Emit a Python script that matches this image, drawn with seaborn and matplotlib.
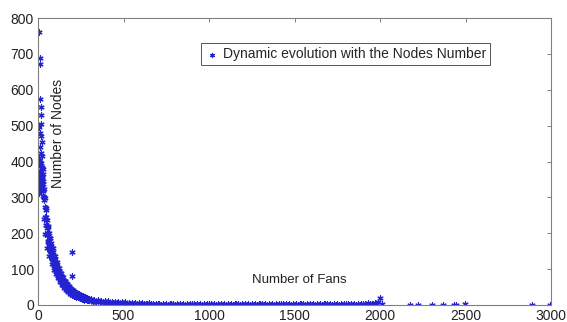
import numpy as np
import pandas as pd
import seaborn as sns
import matplotlib.pyplot as plt

# ---- data ----
fans_head = [3, 12, 13, 14, 16, 15, 20, 8, 10, 18, 22, 12, 17, 25, 6, 14, 20, 9, 24, 27,
             11, 15, 19, 23, 26, 30, 5, 8, 12, 17, 21, 28, 32, 4, 7, 10, 16, 22, 29, 35,
             2, 6, 13, 18, 24, 31, 3, 9, 14, 20, 27]
nodes_head = [760, 690, 672, 575, 552, 530, 505, 495, 480, 470, 455, 440, 425, 415, 410, 400,
              395, 388, 382, 378, 372, 368, 362, 358, 350, 345, 340, 338, 335, 330, 325, 320,
              318, 315, 312, 330, 340, 355, 365, 300, 325, 335, 342, 348, 385, 305, 322, 390,
              375, 360, 338]

fans_mid_a = [36, 39, 42, 45, 48, 51, 54, 57, 60, 63, 66, 69, 72, 75, 78, 81, 84, 87, 90, 93,
              96, 99, 102, 105, 108, 111, 114, 117, 120, 123, 126, 129, 132, 135, 138, 141, 144,
              147, 150, 153, 156, 159, 162, 165, 168, 171, 174, 177, 180, 183, 186, 189, 192,
              195, 198, 201, 204, 207, 210, 213, 216, 219, 222, 225, 228, 231, 234, 237, 240,
              243, 246, 249, 252, 255, 258, 261, 264, 267, 270, 273, 276, 279, 282, 285, 288,
              291, 294, 297, 300]
nodes_mid_a = [294, 245, 272, 223, 244, 196, 216, 179, 201, 166,
               186, 153, 171, 141, 158, 130, 146, 121, 135, 112,
               125, 104, 117, 97, 108, 89, 100, 84, 94, 78,
               87, 73, 81, 68, 76, 63, 70, 59, 66, 55,
               62, 51, 57, 47, 53, 45, 50, 42, 46, 39,
               43, 36, 41, 34, 39, 33, 37, 31, 35, 29,
               32, 27, 31, 26, 29, 25, 28, 23, 27, 22,
               26, 21, 24, 20, 23, 20, 22, 19, 21, 18,
               19, 17, 18, 16, 18, 15, 17, 15, 16]

fans_mid_b = [38, 41, 44, 47, 50, 53, 56, 59, 62, 65, 68, 71, 74, 77, 80, 83, 86, 89, 92, 95,
              98, 101, 104, 107, 110, 113, 116, 119, 122, 125, 128, 131, 134, 137, 140, 143,
              146, 149, 152, 155, 158, 161, 164, 167, 170, 173, 176, 179, 182, 185, 188, 191,
              194, 197, 200, 203, 206, 209, 212, 215, 218, 221, 224, 227, 230, 233, 236, 239,
              242, 245, 248, 251, 254, 257, 260, 263, 266, 269, 272, 275, 278, 281, 284, 287,
              290, 293, 296, 299]
nodes_mid_b = [239, 297, 222, 271, 199, 238, 176, 217, 164, 202,
               151, 186, 139, 172, 128, 158, 119, 147, 110, 136,
               102, 127, 95, 118, 88, 108, 82, 102, 77, 95,
               71, 88, 66, 82, 62, 77, 57, 71, 54, 67,
               50, 62, 47, 58, 43, 54, 40, 51, 38, 47,
               35, 44, 33, 42, 32, 40, 30, 37, 28, 35,
               26, 33, 26, 32, 24, 31, 23, 28, 22, 27,
               21, 26, 19, 25, 18, 24, 18, 23, 17, 21,
               16, 20, 15, 19, 15, 18, 14, 18]

fans_mid_c = [37, 43, 49, 55, 61, 67, 73, 79, 85, 91, 97, 103, 109, 115, 121, 127, 133, 139,
              145, 151, 157, 163, 169, 175, 181, 187, 193, 199, 205, 211, 217, 223, 229, 235,
              241, 247, 253, 259, 265, 271, 277]
nodes_mid_c = [323, 198, 266, 160, 221, 136, 187, 115, 160, 98, 138, 86, 119, 74, 103, 64,
               90, 56, 77, 48, 67, 42, 59, 37, 52, 32, 46, 29, 41, 26, 36, 23, 32, 21, 30,
               19, 26, 17, 24, 15, 22]

fans_tail_a = [310, 330, 350, 370, 390, 410, 430, 450, 470, 490, 510, 530, 550, 570, 590, 610,
               630, 650, 670, 690, 710, 730, 750, 770, 790, 810, 830, 850, 870, 890, 910, 930,
               950, 970, 990, 1010, 1030, 1050, 1070, 1090, 1110, 1130, 1150, 1170, 1190, 1210,
               1230, 1250, 1270, 1290, 1310, 1330, 1350, 1370, 1390, 1410, 1430, 1450, 1470,
               1490, 1510, 1530, 1550, 1570, 1590, 1610, 1630, 1650, 1670, 1690, 1710, 1730,
               1750, 1770, 1790, 1810, 1830, 1850, 1870, 1890, 1910, 1930, 1950, 1970, 1990]
nodes_tail_a = [16, 14, 13, 12, 11, 10, 9, 9, 8, 7,
                7, 6, 6, 5, 5, 5, 4, 5, 4, 4,
                4, 3, 4, 3, 3, 4, 3, 3, 4, 3,
                3, 3, 4, 3, 3, 3, 4, 3, 3, 3,
                3, 4, 3, 3, 3, 3, 4, 3, 3, 4,
                3, 3, 3, 3, 4, 3, 3, 4, 3, 3,
                3, 3, 4, 3, 3, 4, 3, 3, 4, 3,
                3, 4, 3, 4, 3, 3, 4, 3, 4, 3,
                4, 5, 4, 6, 9]

fans_tail_b = [320, 340, 360, 380, 400, 420, 440, 460, 480, 500, 520, 540, 560, 580, 600, 620,
               640, 660, 680, 700, 720, 740, 760, 780, 800, 820, 840, 860, 880, 900, 920, 940,
               960, 980, 1000, 1020, 1040, 1060, 1080, 1100, 1120, 1140, 1160, 1180, 1200, 1220,
               1240, 1260, 1280, 1300, 1320, 1340, 1360, 1380, 1400, 1420, 1440, 1460, 1480,
               1500, 1520, 1540, 1560, 1580, 1600, 1620, 1640, 1660, 1680, 1700, 1720, 1740,
               1760, 1780, 1800, 1820, 1840, 1860, 1880, 1900, 1920, 1940, 1960, 1980, 2000]
nodes_tail_b = [9, 8, 8, 7, 6, 6, 5, 5, 4, 4,
                4, 3, 3, 2, 3, 2, 2, 2, 1, 2,
                1, 1, 1, 2, 1, 1, 1, 1, 1, 2,
                1, 1, 1, 1, 2, 1, 1, 1, 1, 1,
                1, 1, 2, 1, 1, 1, 1, 1, 1, 2,
                1, 1, 1, 1, 1, 2, 1, 1, 1, 1,
                1, 2, 1, 1, 1, 1, 1, 1, 2, 1,
                1, 1, 1, 1, 2, 1, 1, 1, 1, 2,
                1, 2, 3, 4, 20]

fans_outliers = [196, 198, 2010, 2175, 2222, 2302, 2368, 2430, 2445, 2497, 2889, 2994]
nodes_outliers = [147, 81, 2, 1, 1, 1, 1, 1, 1, 3, 1, 1]

legend_label = 'Dynamic evolution with the Nodes Number'
x_ticks = [0, 500, 1000, 1500, 2000, 2500, 3000]
y_ticks = [0, 100, 200, 300, 400, 500, 600, 700, 800]

fans = (fans_head + fans_mid_a + fans_mid_b + fans_mid_c + fans_tail_a + fans_tail_b
        + fans_outliers)
nodes = (nodes_head + nodes_mid_a + nodes_mid_b + nodes_mid_c + nodes_tail_a + nodes_tail_b
         + nodes_outliers)
df = pd.DataFrame({'fans': fans, 'nodes': nodes})

# ---- plotting ----
sns.set_theme(style='white')
plt.rcParams['font.family'] = ['Liberation Sans', 'DejaVu Sans']

fig = plt.figure(figsize=(5.67, 3.22), dpi=100)
ax = fig.add_axes([0.067, 0.0528, 0.905, 0.891])

sns.scatterplot(data=df, x='fans', y='nodes', marker=(6, 2, 0), color='#2323d2',
                s=14, linewidth=0.9, ax=ax, label=legend_label)

ax.set_xlim(0, 3000)
ax.set_ylim(0, 800)
ax.set_xticks(x_ticks)
ax.set_yticks(y_ticks)
ax.set_xlabel('')
ax.set_ylabel('')
ax.tick_params(direction='in', top=True, right=True, length=3, width=0.7,
               labelsize=10, color='#808080', labelcolor='#222222', pad=3)
for sp in ax.spines.values():
    sp.set_color('#808080')
    sp.set_linewidth(0.8)

ax.text(118, 479, 'Number of Nodes', rotation=90, ha='center', va='center',
        fontsize=10, color='#222222')
ax.text(1530, 70, 'Number of Fans', ha='center', va='center',
        fontsize=9.5, color='#222222')

leg = ax.legend(loc='upper left', bbox_to_anchor=(0.317, 0.913), frameon=True,
                fancybox=False, edgecolor='#555555', framealpha=1, fontsize=10,
                borderpad=0.3, handletextpad=0.3, handlelength=1.0, borderaxespad=0,
                markerscale=0.8)
leg.get_frame().set_linewidth(0.7)

fig.savefig('out.png', dpi=100)
